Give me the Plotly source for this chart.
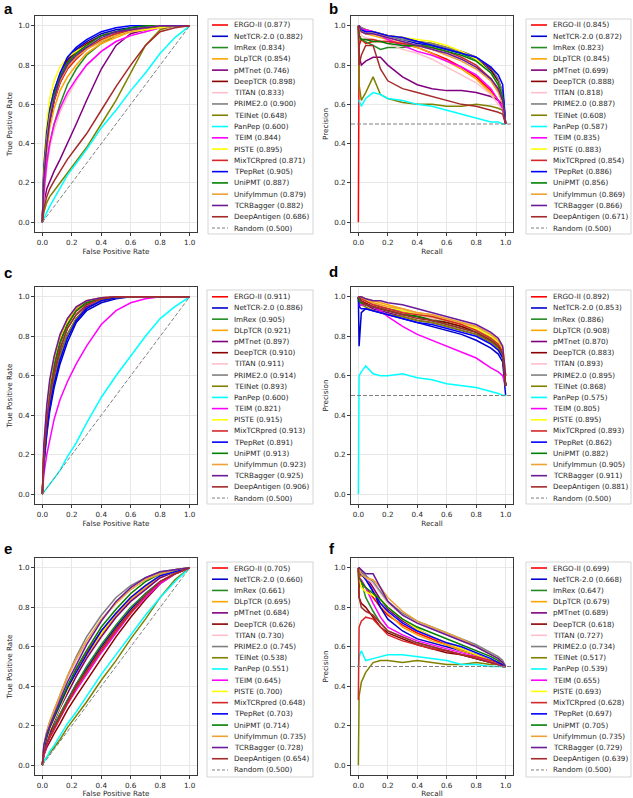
import plotly.graph_objects as go

# ---------------- data ----------------
MODELS = ["ERGO-II", "NetTCR-2.0", "ImRex", "DLpTCR", "pMTnet", "DeepTCR", "TITAN",
          "PRIME2.0", "TEINet", "PanPep", "TEIM", "PISTE", "MixTCRpred", "TPepRet",
          "UniPMT", "UnifyImmun", "TCRBagger", "DeepAntigen"]
COLORS = ["#ff0000", "#0000cd", "#228b22", "#ffa500", "#800080", "#8b0000", "#ffc0cb",
          "#808080", "#808000", "#00ffff", "#ff00ff", "#ffff00", "#d62728", "#0000ff",
          "#008000", "#eea236", "#6a1b9a", "#a52a2a"]

FPR_GRID = [0, 0.01, 0.03, 0.05, 0.08, 0.12, 0.17, 0.23, 0.3, 0.4, 0.5, 0.6, 0.7, 0.8, 0.9, 1.0]
RECALL_GRID = [0, 0.005, 0.02, 0.05, 0.1, 0.15, 0.2, 0.3, 0.4, 0.5, 0.6, 0.7, 0.8, 0.9, 0.95, 0.98, 1.0]

SCORE_A = [0.877, 0.882, 0.834, 0.854, 0.746, 0.898, 0.833, 0.900, 0.648, 0.600, 0.844, 0.895, 0.871, 0.905, 0.887, 0.879, 0.882, 0.686]
SCORE_B = [0.845, 0.872, 0.823, 0.845, 0.699, 0.888, 0.818, 0.887, 0.608, 0.587, 0.835, 0.883, 0.854, 0.886, 0.856, 0.869, 0.866, 0.671]
SCORE_C = [0.911, 0.886, 0.905, 0.921, 0.897, 0.910, 0.911, 0.914, 0.893, 0.600, 0.821, 0.915, 0.913, 0.891, 0.913, 0.923, 0.925, 0.906]
SCORE_D = [0.892, 0.853, 0.886, 0.908, 0.870, 0.883, 0.893, 0.895, 0.868, 0.575, 0.805, 0.895, 0.893, 0.862, 0.882, 0.905, 0.911, 0.881]
SCORE_E = [0.705, 0.660, 0.661, 0.695, 0.684, 0.626, 0.730, 0.745, 0.538, 0.551, 0.645, 0.700, 0.648, 0.703, 0.714, 0.735, 0.728, 0.654]
SCORE_F = [0.699, 0.668, 0.647, 0.679, 0.689, 0.618, 0.727, 0.734, 0.517, 0.539, 0.655, 0.693, 0.628, 0.697, 0.705, 0.735, 0.729, 0.639]
RANDOM_SCORE = 0.500

TPR_A = [
    [0, 0.25, 0.42, 0.52, 0.62, 0.71, 0.78, 0.84, 0.89, 0.93, 0.96, 0.98, 0.99, 0.995, 1, 1],
    [0, 0.20, 0.38, 0.50, 0.62, 0.74, 0.83, 0.88, 0.92, 0.96, 0.98, 0.99, 1, 1, 1, 1],
    [0, 0.15, 0.30, 0.40, 0.50, 0.60, 0.70, 0.78, 0.85, 0.91, 0.95, 0.97, 0.98, 0.99, 1, 1],
    [0, 0.20, 0.36, 0.48, 0.58, 0.67, 0.74, 0.80, 0.86, 0.91, 0.94, 0.97, 0.98, 0.99, 1, 1],
    [0, 0.10, 0.17, 0.21, 0.26, 0.32, 0.40, 0.50, 0.62, 0.78, 0.90, 0.96, 0.98, 0.99, 1, 1],
    [0, 0.25, 0.45, 0.57, 0.67, 0.75, 0.82, 0.87, 0.91, 0.95, 0.97, 0.98, 0.99, 1, 1, 1],
    [0, 0.12, 0.28, 0.38, 0.47, 0.56, 0.64, 0.72, 0.80, 0.87, 0.92, 0.95, 0.97, 0.99, 1, 1],
    [0, 0.28, 0.47, 0.58, 0.67, 0.75, 0.81, 0.86, 0.89, 0.93, 0.96, 0.98, 0.99, 1, 1, 1],
    [0, 0.05, 0.10, 0.13, 0.16, 0.20, 0.25, 0.31, 0.38, 0.50, 0.62, 0.76, 0.90, 0.98, 1, 1],
    [0, 0.02, 0.05, 0.08, 0.12, 0.17, 0.24, 0.30, 0.37, 0.48, 0.57, 0.67, 0.76, 0.86, 0.94, 1],
    [0, 0.15, 0.30, 0.40, 0.50, 0.58, 0.66, 0.73, 0.80, 0.87, 0.92, 0.95, 0.97, 0.99, 1, 1],
    [0, 0.30, 0.50, 0.63, 0.72, 0.79, 0.84, 0.87, 0.90, 0.93, 0.95, 0.97, 0.98, 0.99, 1, 1],
    [0, 0.22, 0.40, 0.52, 0.62, 0.71, 0.78, 0.83, 0.88, 0.93, 0.96, 0.98, 0.99, 1, 1, 1],
    [0, 0.28, 0.46, 0.57, 0.67, 0.76, 0.84, 0.89, 0.93, 0.97, 0.99, 1, 1, 1, 1, 1],
    [0, 0.25, 0.43, 0.55, 0.65, 0.74, 0.81, 0.86, 0.90, 0.95, 0.97, 0.99, 1, 1, 1, 1],
    [0, 0.24, 0.42, 0.54, 0.63, 0.72, 0.79, 0.84, 0.88, 0.92, 0.95, 0.97, 0.99, 1, 1, 1],
    [0, 0.22, 0.40, 0.52, 0.63, 0.73, 0.80, 0.85, 0.89, 0.94, 0.97, 0.98, 0.99, 1, 1, 1],
    [0, 0.07, 0.13, 0.17, 0.21, 0.26, 0.32, 0.38, 0.45, 0.57, 0.69, 0.80, 0.90, 0.97, 0.99, 1],
]

PREC_B = [
    [0, 0.90, 0.93, 0.91, 0.92, 0.92, 0.92, 0.91, 0.89, 0.86, 0.83, 0.79, 0.74, 0.67, 0.62, 0.58, 0.5],
    [1, 1, 0.98, 0.97, 0.97, 0.96, 0.95, 0.93, 0.91, 0.90, 0.88, 0.86, 0.83, 0.77, 0.72, 0.66, 0.5],
    [1, 0.95, 0.93, 0.92, 0.90, 0.88, 0.89, 0.89, 0.90, 0.90, 0.88, 0.86, 0.83, 0.76, 0.70, 0.64, 0.5],
    [1, 1, 0.97, 0.96, 0.95, 0.94, 0.93, 0.91, 0.89, 0.86, 0.82, 0.78, 0.73, 0.66, 0.62, 0.58, 0.5],
    [1, 0.85, 0.80, 0.82, 0.84, 0.84, 0.80, 0.74, 0.70, 0.68, 0.67, 0.67, 0.66, 0.64, 0.62, 0.60, 0.5],
    [1, 1, 0.99, 0.98, 0.97, 0.96, 0.95, 0.94, 0.92, 0.91, 0.89, 0.87, 0.84, 0.78, 0.72, 0.66, 0.5],
    [1, 0.98, 0.95, 0.94, 0.93, 0.92, 0.91, 0.88, 0.86, 0.83, 0.79, 0.75, 0.71, 0.65, 0.60, 0.57, 0.5],
    [1, 1, 0.99, 0.98, 0.97, 0.96, 0.95, 0.93, 0.92, 0.91, 0.89, 0.87, 0.84, 0.79, 0.73, 0.66, 0.5],
    [1, 0.70, 0.62, 0.66, 0.74, 0.65, 0.63, 0.61, 0.60, 0.60, 0.59, 0.59, 0.60, 0.59, 0.58, 0.57, 0.5],
    [0.62, 0.62, 0.59, 0.63, 0.66, 0.65, 0.63, 0.62, 0.60, 0.59, 0.57, 0.55, 0.53, 0.51, 0.51, 0.50, 0.5],
    [1, 1, 0.98, 0.98, 0.97, 0.95, 0.93, 0.90, 0.87, 0.85, 0.82, 0.79, 0.75, 0.68, 0.62, 0.58, 0.5],
    [1, 1, 0.97, 0.96, 0.97, 0.96, 0.95, 0.94, 0.93, 0.92, 0.90, 0.87, 0.83, 0.76, 0.70, 0.64, 0.5],
    [1, 0.95, 0.93, 0.93, 0.93, 0.92, 0.92, 0.91, 0.90, 0.89, 0.87, 0.84, 0.80, 0.73, 0.67, 0.62, 0.5],
    [1, 1, 0.98, 0.97, 0.97, 0.96, 0.95, 0.94, 0.92, 0.90, 0.88, 0.86, 0.84, 0.79, 0.75, 0.70, 0.5],
    [1, 0.95, 0.93, 0.93, 0.92, 0.92, 0.91, 0.90, 0.90, 0.89, 0.87, 0.85, 0.82, 0.76, 0.70, 0.64, 0.5],
    [1, 1, 0.97, 0.96, 0.96, 0.95, 0.94, 0.92, 0.90, 0.88, 0.85, 0.82, 0.78, 0.72, 0.66, 0.60, 0.5],
    [1, 1, 0.97, 0.96, 0.96, 0.95, 0.94, 0.92, 0.90, 0.88, 0.86, 0.83, 0.79, 0.73, 0.68, 0.62, 0.5],
    [1, 0.80, 0.85, 0.90, 0.90, 0.78, 0.72, 0.68, 0.66, 0.64, 0.62, 0.60, 0.59, 0.57, 0.56, 0.55, 0.5],
]

TPR_C = [
    [0, 0.20, 0.38, 0.50, 0.63, 0.75, 0.85, 0.92, 0.96, 0.99, 1, 1, 1, 1, 1, 1],
    [0, 0.15, 0.30, 0.42, 0.54, 0.66, 0.77, 0.87, 0.93, 0.97, 0.99, 1, 1, 1, 1, 1],
    [0, 0.18, 0.36, 0.48, 0.61, 0.73, 0.84, 0.91, 0.96, 0.99, 1, 1, 1, 1, 1, 1],
    [0, 0.22, 0.42, 0.55, 0.67, 0.79, 0.88, 0.94, 0.98, 0.995, 1, 1, 1, 1, 1, 1],
    [0, 0.17, 0.34, 0.46, 0.59, 0.71, 0.81, 0.89, 0.95, 0.98, 0.995, 1, 1, 1, 1, 1],
    [0, 0.20, 0.38, 0.50, 0.63, 0.75, 0.85, 0.92, 0.96, 0.99, 1, 1, 1, 1, 1, 1],
    [0, 0.19, 0.37, 0.50, 0.63, 0.75, 0.85, 0.92, 0.96, 0.99, 1, 1, 1, 1, 1, 1],
    [0, 0.20, 0.40, 0.52, 0.65, 0.77, 0.86, 0.93, 0.97, 0.99, 1, 1, 1, 1, 1, 1],
    [0, 0.16, 0.33, 0.45, 0.58, 0.70, 0.81, 0.89, 0.94, 0.98, 0.995, 1, 1, 1, 1, 1],
    [0, 0.01, 0.03, 0.05, 0.08, 0.12, 0.19, 0.26, 0.36, 0.49, 0.60, 0.70, 0.80, 0.89, 0.95, 1],
    [0, 0.10, 0.20, 0.28, 0.38, 0.48, 0.57, 0.66, 0.75, 0.86, 0.93, 0.97, 0.99, 1, 1, 1],
    [0, 0.21, 0.40, 0.53, 0.66, 0.78, 0.87, 0.93, 0.97, 0.99, 1, 1, 1, 1, 1, 1],
    [0, 0.21, 0.40, 0.52, 0.65, 0.77, 0.86, 0.93, 0.97, 0.99, 1, 1, 1, 1, 1, 1],
    [0, 0.15, 0.32, 0.44, 0.56, 0.68, 0.79, 0.88, 0.94, 0.98, 0.995, 1, 1, 1, 1, 1],
    [0, 0.20, 0.40, 0.52, 0.65, 0.77, 0.86, 0.93, 0.97, 0.99, 1, 1, 1, 1, 1, 1],
    [0, 0.23, 0.43, 0.56, 0.69, 0.80, 0.89, 0.95, 0.98, 0.995, 1, 1, 1, 1, 1, 1],
    [0, 0.25, 0.45, 0.58, 0.70, 0.81, 0.89, 0.95, 0.98, 0.995, 1, 1, 1, 1, 1, 1],
    [0, 0.19, 0.37, 0.49, 0.62, 0.74, 0.84, 0.91, 0.96, 0.99, 1, 1, 1, 1, 1, 1],
]

PREC_D = [
    [1, 1, 0.99, 0.98, 0.96, 0.95, 0.94, 0.92, 0.91, 0.89, 0.88, 0.86, 0.83, 0.79, 0.76, 0.72, 0.55],
    [1, 0.75, 0.92, 0.94, 0.93, 0.92, 0.91, 0.89, 0.87, 0.85, 0.83, 0.81, 0.78, 0.74, 0.71, 0.67, 0.5],
    [1, 0.97, 0.97, 0.96, 0.95, 0.94, 0.93, 0.92, 0.90, 0.89, 0.87, 0.85, 0.83, 0.79, 0.76, 0.72, 0.55],
    [1, 1, 1, 0.99, 0.98, 0.97, 0.96, 0.94, 0.92, 0.91, 0.89, 0.87, 0.85, 0.81, 0.78, 0.74, 0.6],
    [1, 1, 0.98, 0.96, 0.94, 0.93, 0.92, 0.90, 0.88, 0.87, 0.85, 0.83, 0.81, 0.77, 0.74, 0.70, 0.55],
    [1, 1, 0.98, 0.97, 0.95, 0.94, 0.93, 0.91, 0.90, 0.88, 0.87, 0.85, 0.82, 0.78, 0.75, 0.71, 0.55],
    [1, 1, 0.99, 0.98, 0.96, 0.95, 0.94, 0.92, 0.91, 0.89, 0.88, 0.86, 0.83, 0.79, 0.76, 0.72, 0.55],
    [1, 1, 0.99, 0.98, 0.97, 0.95, 0.94, 0.93, 0.91, 0.90, 0.88, 0.86, 0.84, 0.80, 0.77, 0.73, 0.55],
    [1, 0.97, 0.96, 0.95, 0.93, 0.92, 0.91, 0.90, 0.88, 0.87, 0.85, 0.83, 0.81, 0.77, 0.74, 0.70, 0.55],
    [0, 0.60, 0.62, 0.65, 0.61, 0.60, 0.60, 0.61, 0.59, 0.58, 0.56, 0.55, 0.54, 0.52, 0.51, 0.50, 0.5],
    [1, 0.95, 0.96, 0.96, 0.95, 0.93, 0.90, 0.85, 0.81, 0.78, 0.75, 0.72, 0.69, 0.64, 0.62, 0.60, 0.55],
    [1, 1, 0.99, 0.98, 0.97, 0.96, 0.95, 0.93, 0.91, 0.90, 0.88, 0.86, 0.84, 0.80, 0.77, 0.73, 0.6],
    [1, 1, 0.99, 0.98, 0.96, 0.95, 0.94, 0.92, 0.91, 0.90, 0.88, 0.86, 0.83, 0.79, 0.76, 0.72, 0.55],
    [1, 0.95, 0.94, 0.94, 0.93, 0.92, 0.91, 0.89, 0.87, 0.86, 0.84, 0.82, 0.80, 0.76, 0.73, 0.69, 0.55],
    [1, 0.98, 0.97, 0.96, 0.95, 0.94, 0.93, 0.91, 0.90, 0.88, 0.86, 0.84, 0.82, 0.78, 0.75, 0.71, 0.55],
    [1, 1, 1, 0.99, 0.97, 0.96, 0.95, 0.94, 0.92, 0.91, 0.89, 0.87, 0.85, 0.81, 0.78, 0.74, 0.6],
    [1, 1, 1, 0.99, 0.98, 0.98, 0.97, 0.96, 0.94, 0.92, 0.90, 0.88, 0.86, 0.82, 0.79, 0.75, 0.6],
    [1, 1, 0.98, 0.96, 0.95, 0.94, 0.93, 0.91, 0.89, 0.88, 0.86, 0.84, 0.82, 0.78, 0.75, 0.71, 0.55],
]

TPR_E = [
    [0, 0.08, 0.14, 0.19, 0.24, 0.31, 0.39, 0.48, 0.57, 0.68, 0.77, 0.85, 0.91, 0.96, 0.98, 1],
    [0, 0.07, 0.12, 0.16, 0.20, 0.26, 0.33, 0.41, 0.49, 0.60, 0.70, 0.79, 0.87, 0.93, 0.97, 1],
    [0, 0.06, 0.11, 0.15, 0.20, 0.26, 0.33, 0.41, 0.50, 0.61, 0.71, 0.80, 0.87, 0.93, 0.97, 1],
    [0, 0.08, 0.14, 0.18, 0.23, 0.30, 0.37, 0.46, 0.55, 0.66, 0.76, 0.84, 0.90, 0.95, 0.98, 1],
    [0, 0.07, 0.13, 0.17, 0.22, 0.29, 0.36, 0.45, 0.54, 0.65, 0.75, 0.83, 0.89, 0.95, 0.98, 1],
    [0, 0.05, 0.09, 0.12, 0.16, 0.21, 0.28, 0.35, 0.43, 0.54, 0.65, 0.75, 0.84, 0.92, 0.97, 1],
    [0, 0.09, 0.16, 0.21, 0.27, 0.35, 0.44, 0.53, 0.62, 0.73, 0.82, 0.89, 0.94, 0.97, 0.99, 1],
    [0, 0.10, 0.17, 0.22, 0.28, 0.36, 0.45, 0.55, 0.65, 0.76, 0.85, 0.91, 0.95, 0.98, 0.99, 1],
    [0, 0.02, 0.04, 0.06, 0.09, 0.13, 0.19, 0.25, 0.32, 0.43, 0.53, 0.64, 0.74, 0.85, 0.94, 1],
    [0, 0.02, 0.04, 0.07, 0.10, 0.15, 0.21, 0.27, 0.35, 0.46, 0.56, 0.66, 0.76, 0.85, 0.93, 1],
    [0, 0.05, 0.10, 0.14, 0.18, 0.24, 0.31, 0.38, 0.46, 0.57, 0.67, 0.77, 0.85, 0.92, 0.97, 1],
    [0, 0.07, 0.13, 0.18, 0.23, 0.30, 0.38, 0.47, 0.56, 0.67, 0.77, 0.85, 0.91, 0.96, 0.98, 1],
    [0, 0.06, 0.11, 0.14, 0.18, 0.24, 0.31, 0.39, 0.47, 0.58, 0.68, 0.77, 0.86, 0.93, 0.97, 1],
    [0, 0.08, 0.14, 0.19, 0.24, 0.31, 0.39, 0.47, 0.56, 0.68, 0.77, 0.85, 0.91, 0.96, 0.98, 1],
    [0, 0.09, 0.15, 0.20, 0.25, 0.32, 0.40, 0.49, 0.58, 0.70, 0.79, 0.87, 0.93, 0.97, 0.99, 1],
    [0, 0.10, 0.17, 0.22, 0.28, 0.36, 0.45, 0.54, 0.63, 0.74, 0.82, 0.89, 0.94, 0.97, 0.99, 1],
    [0, 0.10, 0.16, 0.20, 0.26, 0.33, 0.42, 0.51, 0.61, 0.73, 0.83, 0.90, 0.95, 0.98, 0.99, 1],
    [0, 0.06, 0.11, 0.15, 0.19, 0.25, 0.32, 0.40, 0.48, 0.59, 0.69, 0.78, 0.86, 0.93, 0.97, 1],
]

PREC_F = [
    [1, 0.95, 0.92, 0.90, 0.85, 0.80, 0.76, 0.71, 0.67, 0.64, 0.61, 0.58, 0.56, 0.53, 0.52, 0.51, 0.5],
    [1, 0.95, 0.97, 0.95, 0.88, 0.80, 0.74, 0.68, 0.64, 0.62, 0.60, 0.58, 0.56, 0.53, 0.52, 0.51, 0.5],
    [1, 0.90, 0.93, 0.85, 0.78, 0.72, 0.68, 0.65, 0.62, 0.60, 0.58, 0.56, 0.54, 0.52, 0.51, 0.50, 0.5],
    [1, 0.95, 0.96, 0.95, 0.90, 0.82, 0.77, 0.70, 0.66, 0.63, 0.61, 0.58, 0.56, 0.53, 0.52, 0.51, 0.5],
    [1, 1, 0.98, 0.96, 0.90, 0.84, 0.79, 0.73, 0.69, 0.65, 0.62, 0.59, 0.56, 0.53, 0.52, 0.51, 0.5],
    [1, 0.85, 0.82, 0.80, 0.75, 0.70, 0.67, 0.64, 0.61, 0.59, 0.57, 0.56, 0.54, 0.52, 0.51, 0.50, 0.5],
    [1, 1, 0.97, 0.95, 0.92, 0.87, 0.82, 0.76, 0.72, 0.69, 0.66, 0.63, 0.60, 0.56, 0.54, 0.52, 0.5],
    [1, 1, 0.98, 0.96, 0.93, 0.88, 0.83, 0.77, 0.73, 0.70, 0.67, 0.64, 0.61, 0.57, 0.55, 0.53, 0.5],
    [0, 0.35, 0.42, 0.47, 0.52, 0.53, 0.53, 0.52, 0.53, 0.52, 0.51, 0.51, 0.52, 0.51, 0.51, 0.50, 0.5],
    [0.5, 0.55, 0.58, 0.53, 0.54, 0.55, 0.56, 0.56, 0.55, 0.54, 0.53, 0.51, 0.51, 0.50, 0.50, 0.50, 0.5],
    [1, 0.95, 0.94, 0.90, 0.82, 0.75, 0.70, 0.66, 0.63, 0.61, 0.59, 0.57, 0.55, 0.52, 0.51, 0.50, 0.5],
    [1, 0.95, 0.90, 0.88, 0.86, 0.84, 0.80, 0.74, 0.69, 0.65, 0.62, 0.59, 0.56, 0.53, 0.52, 0.51, 0.5],
    [0.33, 0.70, 0.73, 0.75, 0.74, 0.70, 0.66, 0.63, 0.61, 0.59, 0.58, 0.56, 0.55, 0.53, 0.52, 0.51, 0.5],
    [1, 1, 0.97, 0.94, 0.88, 0.82, 0.78, 0.72, 0.68, 0.65, 0.62, 0.60, 0.57, 0.54, 0.52, 0.51, 0.5],
    [1, 0.95, 0.93, 0.90, 0.87, 0.84, 0.80, 0.74, 0.70, 0.67, 0.64, 0.61, 0.58, 0.55, 0.53, 0.52, 0.5],
    [1, 1, 0.97, 0.95, 0.94, 0.90, 0.85, 0.78, 0.73, 0.70, 0.67, 0.64, 0.60, 0.56, 0.54, 0.52, 0.5],
    [1, 1, 0.99, 0.97, 0.97, 0.90, 0.83, 0.76, 0.72, 0.69, 0.66, 0.63, 0.60, 0.56, 0.54, 0.52, 0.5],
    [1, 0.85, 0.80, 0.78, 0.76, 0.72, 0.68, 0.65, 0.62, 0.60, 0.58, 0.56, 0.54, 0.52, 0.51, 0.50, 0.5],
]

AXIS_RANGE = [-0.05, 1.05]
TICKS = [0.0, 0.2, 0.4, 0.6, 0.8, 1.0]

# ---------------- layout helpers ----------------
W, H = 633, 798
FONT = "DejaVu Sans"
FS = 7.2
TXT = "#262626"


def px(x):
    return x / W


def py(y):
    return 1 - y / H


PANELS = [
    ("a", "roc", TPR_A, SCORE_A, (35, 197, 16, 232), (208, 313, 19, 234, 25.0, 11.28, 212)),
    ("b", "pr", PREC_B, SCORE_B, (351, 513, 16, 232), (526, 631, 19, 234, 25.0, 11.28, 531)),
    ("c", "roc", TPR_C, SCORE_C, (35, 197, 287, 504), (207, 313, 290, 504, 296.8, 11.18, 212)),
    ("d", "pr", PREC_D, SCORE_D, (351, 513, 287, 504), (526, 631, 290, 504, 296.8, 11.18, 531)),
    ("e", "roc", TPR_E, SCORE_E, (35, 197, 558, 775), (207, 313, 562, 777, 568.0, 11.22, 212)),
    ("f", "pr", PREC_F, SCORE_F, (351, 513, 558, 775), (526, 631, 562, 777, 568.0, 11.22, 531)),
]
LETTER_POS = {"a": (2, 8), "b": (327, 8), "c": (2, 272), "d": (327, 271), "e": (2, 548), "f": (327, 548)}

fig = go.Figure()
shapes = []
annotations = []
layout = {}

for i, (letter, kind, vals, scores, frame, leg) in enumerate(PANELS):
    k = "" if i == 0 else str(i + 1)
    xa, ya = "x" + k, "y" + k
    grid = FPR_GRID if kind == "roc" else RECALL_GRID
    for m, col, v in zip(MODELS, COLORS, vals):
        fig.add_trace(go.Scatter(x=grid, y=v, mode="lines", name=m,
                                 line=dict(color=col, width=1.5),
                                 xaxis=xa, yaxis=ya, showlegend=False))
    if kind == "roc":
        rx, ry = [0, 1], [0, 1]
    else:
        rx, ry = AXIS_RANGE, [RANDOM_SCORE, RANDOM_SCORE]
    fig.add_trace(go.Scatter(x=rx, y=ry, mode="lines", name="Random",
                             line=dict(color="#808080", width=1, dash="4px,2px"),
                             xaxis=xa, yaxis=ya, showlegend=False))

    fx0, fx1, fy0, fy1 = frame
    common = dict(range=AXIS_RANGE, tickvals=TICKS, ticktext=[f"{t:.1f}" for t in TICKS],
                  showline=True, mirror=True, linecolor="#3a3a3a", linewidth=0.9,
                  ticks="outside", ticklen=3, tickwidth=0.8, tickcolor="#3a3a3a",
                  showgrid=True, gridcolor="#e8e8e8", gridwidth=0.8, zeroline=False,
                  tickfont=dict(family=FONT, size=FS, color=TXT))
    layout["xaxis" + k] = dict(common, domain=[px(fx0), px(fx1)], anchor=ya,
                               title=dict(text="False Positive Rate" if kind == "roc" else "Recall",
                                          font=dict(family=FONT, size=FS, color=TXT), standoff=3))
    layout["yaxis" + k] = dict(common, domain=[py(fy1), py(fy0)], anchor=xa,
                               title=dict(text="True Positive Rate" if kind == "roc" else "Precision",
                                          font=dict(family=FONT, size=FS, color=TXT), standoff=4))

    lx, ly = LETTER_POS[letter]
    annotations.append(dict(text=f"<b>{letter}</b>", x=px(lx), y=py(ly), xref="paper", yref="paper",
                            xanchor="left", yanchor="middle", showarrow=False,
                            font=dict(family="Liberation Sans", size=15, color="#000")))

    bx0, bx1, by0, by1, ey0, estep, sx = leg
    shapes.append(dict(type="rect", xref="paper", yref="paper", x0=px(bx0), x1=px(bx1),
                       y0=py(by1), y1=py(by0), line=dict(color="#d0d0d0", width=0.9),
                       fillcolor="rgba(255,255,255,0.9)", layer="above"))
    entries = [(f"{m} ({s:.3f})", c, "solid", 1.6) for m, c, s in zip(MODELS, COLORS, scores)]
    entries.append((f"Random ({RANDOM_SCORE:.3f})", "#808080", "3px,2px", 1.0))
    for j, (label, col, dash, wdt) in enumerate(entries):
        yy = ey0 + j * estep
        shapes.append(dict(type="line", xref="paper", yref="paper", x0=px(sx), x1=px(sx + 16),
                           y0=py(yy), y1=py(yy), line=dict(color=col, width=wdt, dash=dash),
                           layer="above"))
        annotations.append(dict(text=label, x=px(sx + 20), y=py(yy), xref="paper", yref="paper",
                                xanchor="left", yanchor="middle", showarrow=False,
                                font=dict(family=FONT, size=FS, color=TXT)))

fig.update_layout(width=W, height=H, margin=dict(l=0, r=0, t=0, b=0),
                  paper_bgcolor="white", plot_bgcolor="white",
                  shapes=shapes, annotations=annotations, showlegend=False, **layout)

fig.write_html("out.html")
